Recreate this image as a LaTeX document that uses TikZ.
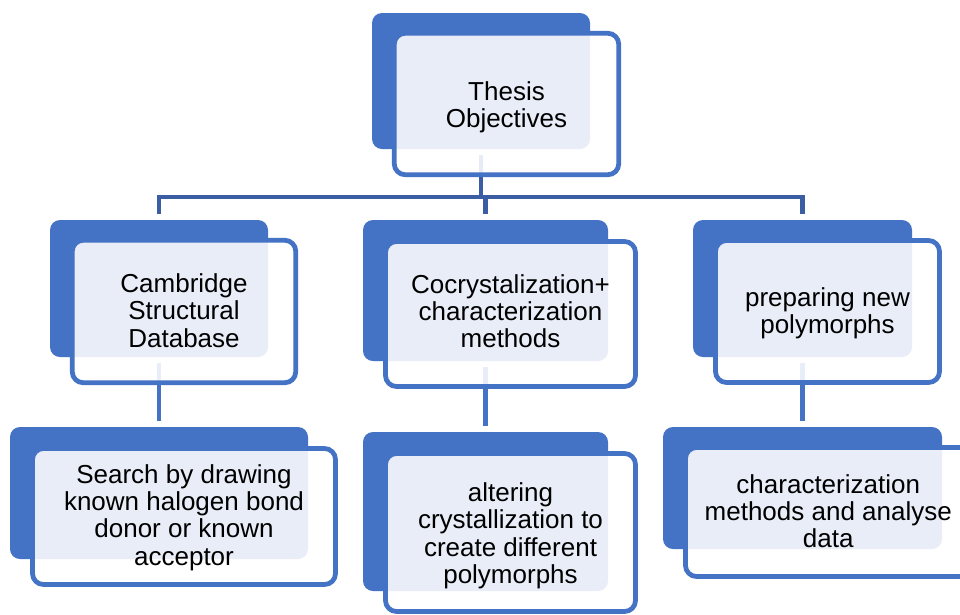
\documentclass[tikz,border=0pt]{standalone}
\usepackage{fontspec}
\setmainfont{Liberation Sans}
\definecolor{accent}{HTML}{4472C4}
\definecolor{conndark}{HTML}{3A5DA3}
\begin{document}
\begin{tikzpicture}[x=1pt,y=-1pt,
  backbox/.style={fill=accent, draw=none, rounded corners=10pt, inner sep=0pt, outer sep=0pt},
  frontbox/.style={draw=accent, line width=4.75pt, fill=white, fill opacity=0.88, rounded corners=11pt, inner sep=0pt, outer sep=0pt},
  txt/.style={align=center, font=\fontsize{26pt}{27.3pt}\selectfont, text=black, inner sep=0pt},
  connA/.style={draw=conndark, line width=4.5pt, shorten <=6pt, shorten >=6pt},
  connB/.style={draw=accent, line width=4.5pt, shorten <=6pt, shorten >=6pt}]
\useasboundingbox (0,0) rectangle (960,614);
\clip (0,0) rectangle (960,614);
\fill[white] (0,0) rectangle (960,614);

% back (blue) boxes
\node[backbox, minimum width=218pt, minimum height=136pt] (b0) at (481,81) {};
\node[backbox, minimum width=218pt, minimum height=137pt] (b1) at (159,288.5) {};
\node[backbox, minimum width=245pt, minimum height=141pt] (b2) at (485.5,290.5) {};
\node[backbox, minimum width=219pt, minimum height=137pt] (b3) at (802.5,288.5) {};
\node[backbox, minimum width=298pt, minimum height=132pt] (b4) at (159,493) {};
\node[backbox, minimum width=245pt, minimum height=159pt] (b5) at (485.5,511.5) {};
\node[backbox, minimum width=279pt, minimum height=122pt] (b6) at (802.5,488) {};

% connectors
\coordinate (bus) at (0,197);
\draw[connA] (b0.south) -- (b0.south |- bus) -| (b1.north);
\draw[connA] (b0.south) -- (b0.south |- bus) -| (b2.north);
\draw[connA] (b0.south) -- (b0.south |- bus) -| (b3.north);
\draw[connB] (b1.south) -- (b4.north);
\draw[connB] (b2.south) -- (b5.north);
\draw[connB] (b3.south) -- (b6.north);

% front boxes
\node[frontbox, minimum width=224.5pt, minimum height=141.5pt] (f0) at (506.5,104) {};
\node[frontbox, minimum width=223.5pt, minimum height=142.5pt] (f1) at (184,311.5) {};
\node[frontbox, minimum width=250pt, minimum height=145pt] (f2) at (510.5,314) {};
\node[frontbox, minimum width=224pt, minimum height=142pt] (f3) at (827.5,311.5) {};
\node[frontbox, minimum width=303pt, minimum height=136pt] (f4) at (184,516.5) {};
\node[frontbox, minimum width=250pt, minimum height=158pt] (f5) at (510.5,532.5) {};
\node[frontbox, minimum width=285.5pt, minimum height=129pt] (f6) at (828.25,512) {};

% texts
\node[txt, yshift=-3pt] (t0) at (f0.center) {Thesis\\Objectives};
\node[txt, yshift=1pt] (t1) at (f1.center) {Cambridge\\Structural\\Database};
\node[txt, yshift=3pt] (t2) at (f2.center) {Cocrystalization+\\characterization\\methods};
\node[txt, yshift=-2pt] (t3) at (f3.center) {preparing new\\polymorphs};
\node[txt, yshift=-1pt] (t4) at (f4.center) {Search by drawing\\known halogen bond\\donor or known\\acceptor};
\node[txt, yshift=-3.4pt] (t5) at (f5.center) {altering\\crystallization to\\create different\\polymorphs};
\node[txt, yshift=1pt] (t6) at (f6.center) {characterization\\methods and analyse\\data};
\end{tikzpicture}
\end{document}
